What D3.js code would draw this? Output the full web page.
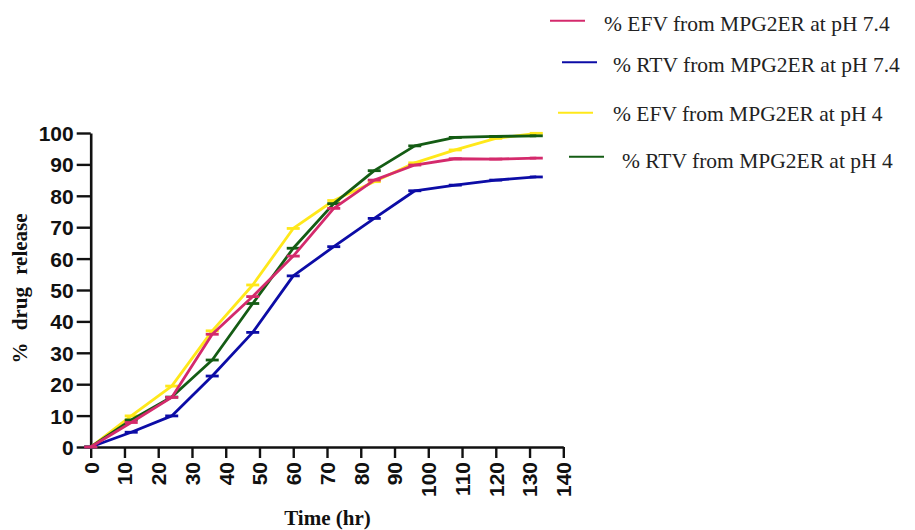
<!DOCTYPE html>
<html>
<head>
<meta charset="utf-8">
<script src="https://cdn.jsdelivr.net/npm/d3@7"></script>
<style>
  html, body { margin: 0; padding: 0; background: #fff; }
  svg { display: block; }
</style>
</head>
<body>
<svg id="chart" width="915" height="530"></svg>
<script>
// Sampling times (hours)
const times = [0, 12, 24, 36, 48, 60, 72, 84, 96, 108, 120, 132];

// Cumulative % drug released at each time
const efvPh74 = [0, 7.8, 15.8, 35.9, 47.9, 60.8, 76, 85, 89.8, 91.8, 91.7, 92];
const rtvPh74 = [0, 4.7, 9.9, 22.6, 36.5, 54.5, 63.8, 72.8, 81.6, 83.4, 85, 86];
const efvPh4  = [0, 9.9, 19.4, 37, 51.6, 69.6, 78.5, 84.5, 90.5, 94.6, 98.3, 99.9];
const rtvPh4  = [0, 8.6, 15.9, 27.7, 45.7, 63.3, 77.5, 88, 95.9, 98.6, 98.9, 99.1];

const seriesNames = [
  "% EFV from MPG2ER at pH 7.4",
  "% RTV from MPG2ER at pH 7.4",
  "% EFV from MPG2ER at pH 4",
  "% RTV from MPG2ER at pH 4"
];
const seriesValues = [efvPh74, rtvPh74, efvPh4, rtvPh4];
const seriesColors = ["#d42a6c", "#0c0ca6", "#ffe81a", "#145c14"];

const xTicks = d3.range(0, 141, 10);
const yTicks = d3.range(0, 101, 10);

const svg = d3.select("#chart");

const x = d3.scaleLinear().domain([0, 140]).range([90.7, 563.3]);
const y = d3.scaleLinear().domain([0, 100]).range([447, 133]);

// Axes
const yAxis = svg.append("g")
  .attr("transform", `translate(${x(0)},0)`)
  .call(d3.axisLeft(y).tickValues(yTicks).tickSize(14).tickPadding(3).tickSizeOuter(0));
const xAxis = svg.append("g")
  .attr("transform", `translate(0,${y(0)})`)
  .call(d3.axisBottom(x).tickValues(xTicks).tickSize(11).tickPadding(4).tickSizeOuter(0));

[yAxis, xAxis].forEach(g => {
  g.select(".domain").attr("stroke", "#111").attr("stroke-width", 2.6);
  g.selectAll(".tick line").attr("stroke", "#111").attr("stroke-width", 2.4);
  g.selectAll(".tick text")
    .attr("fill", "#111")
    .style("font-family", "'Liberation Sans', Arial, sans-serif")
    .style("font-weight", "bold")
    .style("font-size", "21px");
});

yAxis.selectAll(".tick text").attr("dy", "0.36em");

// x tick labels read bottom-to-top
xAxis.selectAll(".tick text")
  .attr("transform", "rotate(-90)")
  .attr("text-anchor", "end")
  .attr("x", -15)
  .attr("y", 0)
  .attr("dy", "0.35em");

// Axis titles
svg.append("text")
  .attr("transform", `translate(27,288.5) rotate(-90)`)
  .attr("text-anchor", "middle")
  .style("font-family", "'Liberation Serif', 'Times New Roman', serif")
  .style("font-weight", "bold")
  .style("font-size", "21px")
  .style("word-spacing", "7px")
  .attr("fill", "#111")
  .text("% drug release");

svg.append("text")
  .attr("x", 327.5)
  .attr("y", 525)
  .attr("text-anchor", "middle")
  .style("font-family", "'Liberation Serif', 'Times New Roman', serif")
  .style("font-weight", "bold")
  .style("font-size", "21px")
  .attr("fill", "#111")
  .text("Time (hr)");

// Series: lines with small error-bar caps at each sample
const line = d3.line().x(d => x(d.t)).y(d => y(d.v));
const drawOrder = [2, 3, 1, 0];
drawOrder.forEach(i => {
  const pts = times.map((t, k) => ({ t, v: seriesValues[i][k] }));
  const g = svg.append("g");
  g.append("path")
    .datum(pts)
    .attr("d", line)
    .attr("fill", "none")
    .attr("stroke", seriesColors[i])
    .attr("stroke-width", 2.8)
    .attr("stroke-linejoin", "round");
  g.selectAll("line.cap")
    .data(pts)
    .join("line")
    .attr("class", "cap")
    .attr("x1", d => x(d.t) - 6.5)
    .attr("x2", d => x(d.t) + 6.5)
    .attr("y1", d => y(d.v))
    .attr("y2", d => y(d.v))
    .attr("stroke", seriesColors[i])
    .attr("stroke-width", 2.8);
});

// Legend
const legendRows = [
  { lx: 550, ly: 20.7, tx: 604, dy: 10.5 },
  { lx: 562, ly: 62.3, tx: 613, dy: 9.5 },
  { lx: 558, ly: 112.7, tx: 613, dy: 8.5 },
  { lx: 569, ly: 156.7, tx: 622, dy: 11 }
];
const legend = svg.append("g");
seriesNames.forEach((name, i) => {
  const r = legendRows[i];
  legend.append("line")
    .attr("x1", r.lx).attr("x2", r.lx + 35)
    .attr("y1", r.ly).attr("y2", r.ly)
    .attr("stroke", seriesColors[i])
    .attr("stroke-width", 2);
  legend.append("text")
    .attr("x", r.tx)
    .attr("y", r.ly + r.dy)
    .style("font-family", "'Liberation Serif', 'Times New Roman', serif")
    .style("font-size", "21.5px")
    .attr("fill", "#222")
    .text(name);
});
</script>
</body>
</html>
